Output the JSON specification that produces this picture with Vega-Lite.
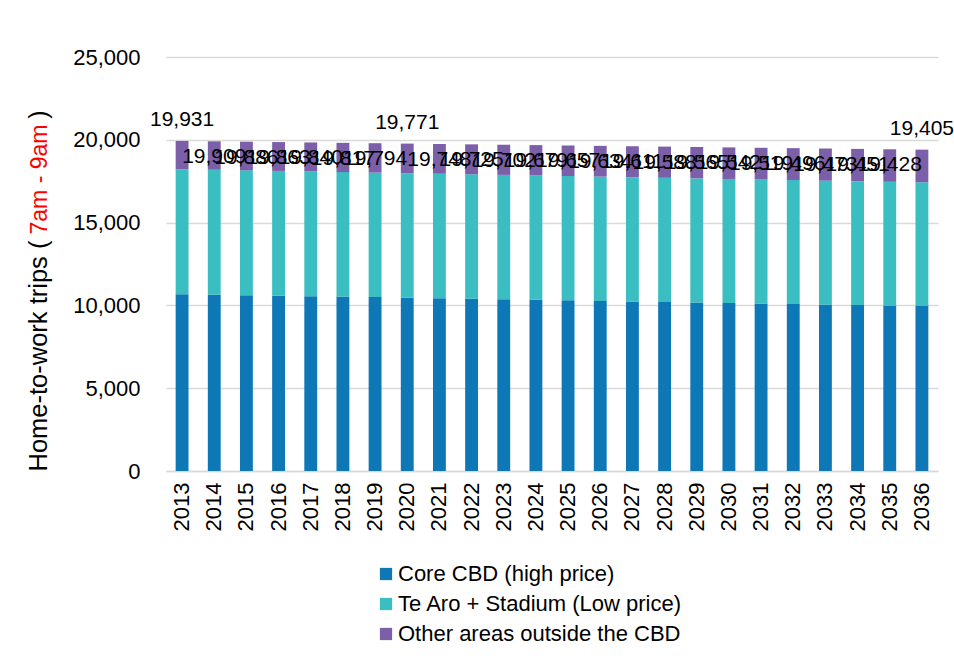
{
  "$schema": "https://vega.github.io/schema/vega-lite/v6.json",
  "width": 772,
  "height": 414,
  "autosize": {"type": "none"},
  "padding": {"left": 166, "top": 57, "right": 16, "bottom": 185},
  "background": "white",
  "config": {
    "font": "Liberation Sans",
    "view": {"stroke": null},
    "axis": {"labelFont": "Liberation Sans", "titleFont": "Liberation Sans", "labelColor": "#000000", "titleColor": "#000000", "titleFontWeight": "normal"}
  },
  "data": {"values": [
    {"year": 2013, "cat": "Core CBD (high price)", "s": 1, "v": 10680},
    {"year": 2013, "cat": "Te Aro + Stadium (Low price)", "s": 2, "v": 7545},
    {"year": 2013, "cat": "Other areas outside the CBD", "s": 3, "v": 1706},
    {"year": 2014, "cat": "Core CBD (high price)", "s": 1, "v": 10650},
    {"year": 2014, "cat": "Te Aro + Stadium (Low price)", "s": 2, "v": 7540},
    {"year": 2014, "cat": "Other areas outside the CBD", "s": 3, "v": 1719},
    {"year": 2015, "cat": "Core CBD (high price)", "s": 1, "v": 10620},
    {"year": 2015, "cat": "Te Aro + Stadium (Low price)", "s": 2, "v": 7535},
    {"year": 2015, "cat": "Other areas outside the CBD", "s": 3, "v": 1731},
    {"year": 2016, "cat": "Core CBD (high price)", "s": 1, "v": 10590},
    {"year": 2016, "cat": "Te Aro + Stadium (Low price)", "s": 2, "v": 7530},
    {"year": 2016, "cat": "Other areas outside the CBD", "s": 3, "v": 1743},
    {"year": 2017, "cat": "Core CBD (high price)", "s": 1, "v": 10560},
    {"year": 2017, "cat": "Te Aro + Stadium (Low price)", "s": 2, "v": 7525},
    {"year": 2017, "cat": "Other areas outside the CBD", "s": 3, "v": 1755},
    {"year": 2018, "cat": "Core CBD (high price)", "s": 1, "v": 10530},
    {"year": 2018, "cat": "Te Aro + Stadium (Low price)", "s": 2, "v": 7520},
    {"year": 2018, "cat": "Other areas outside the CBD", "s": 3, "v": 1767},
    {"year": 2019, "cat": "Core CBD (high price)", "s": 1, "v": 10500},
    {"year": 2019, "cat": "Te Aro + Stadium (Low price)", "s": 2, "v": 7515},
    {"year": 2019, "cat": "Other areas outside the CBD", "s": 3, "v": 1779},
    {"year": 2020, "cat": "Core CBD (high price)", "s": 1, "v": 10460},
    {"year": 2020, "cat": "Te Aro + Stadium (Low price)", "s": 2, "v": 7520},
    {"year": 2020, "cat": "Other areas outside the CBD", "s": 3, "v": 1791},
    {"year": 2021, "cat": "Core CBD (high price)", "s": 1, "v": 10430},
    {"year": 2021, "cat": "Te Aro + Stadium (Low price)", "s": 2, "v": 7520},
    {"year": 2021, "cat": "Other areas outside the CBD", "s": 3, "v": 1798},
    {"year": 2022, "cat": "Core CBD (high price)", "s": 1, "v": 10400},
    {"year": 2022, "cat": "Te Aro + Stadium (Low price)", "s": 2, "v": 7515},
    {"year": 2022, "cat": "Other areas outside the CBD", "s": 3, "v": 1810},
    {"year": 2023, "cat": "Core CBD (high price)", "s": 1, "v": 10370},
    {"year": 2023, "cat": "Te Aro + Stadium (Low price)", "s": 2, "v": 7510},
    {"year": 2023, "cat": "Other areas outside the CBD", "s": 3, "v": 1822},
    {"year": 2024, "cat": "Core CBD (high price)", "s": 1, "v": 10340},
    {"year": 2024, "cat": "Te Aro + Stadium (Low price)", "s": 2, "v": 7505},
    {"year": 2024, "cat": "Other areas outside the CBD", "s": 3, "v": 1834},
    {"year": 2025, "cat": "Core CBD (high price)", "s": 1, "v": 10310},
    {"year": 2025, "cat": "Te Aro + Stadium (Low price)", "s": 2, "v": 7500},
    {"year": 2025, "cat": "Other areas outside the CBD", "s": 3, "v": 1847},
    {"year": 2026, "cat": "Core CBD (high price)", "s": 1, "v": 10270},
    {"year": 2026, "cat": "Te Aro + Stadium (Low price)", "s": 2, "v": 7505},
    {"year": 2026, "cat": "Other areas outside the CBD", "s": 3, "v": 1859},
    {"year": 2027, "cat": "Core CBD (high price)", "s": 1, "v": 10240},
    {"year": 2027, "cat": "Te Aro + Stadium (Low price)", "s": 2, "v": 7500},
    {"year": 2027, "cat": "Other areas outside the CBD", "s": 3, "v": 1871},
    {"year": 2028, "cat": "Core CBD (high price)", "s": 1, "v": 10210},
    {"year": 2028, "cat": "Te Aro + Stadium (Low price)", "s": 2, "v": 7495},
    {"year": 2028, "cat": "Other areas outside the CBD", "s": 3, "v": 1883},
    {"year": 2029, "cat": "Core CBD (high price)", "s": 1, "v": 10180},
    {"year": 2029, "cat": "Te Aro + Stadium (Low price)", "s": 2, "v": 7490},
    {"year": 2029, "cat": "Other areas outside the CBD", "s": 3, "v": 1895},
    {"year": 2030, "cat": "Core CBD (high price)", "s": 1, "v": 10150},
    {"year": 2030, "cat": "Te Aro + Stadium (Low price)", "s": 2, "v": 7485},
    {"year": 2030, "cat": "Other areas outside the CBD", "s": 3, "v": 1907},
    {"year": 2031, "cat": "Core CBD (high price)", "s": 1, "v": 10120},
    {"year": 2031, "cat": "Te Aro + Stadium (Low price)", "s": 2, "v": 7480},
    {"year": 2031, "cat": "Other areas outside the CBD", "s": 3, "v": 1919},
    {"year": 2032, "cat": "Core CBD (high price)", "s": 1, "v": 10090},
    {"year": 2032, "cat": "Te Aro + Stadium (Low price)", "s": 2, "v": 7480},
    {"year": 2032, "cat": "Other areas outside the CBD", "s": 3, "v": 1926},
    {"year": 2033, "cat": "Core CBD (high price)", "s": 1, "v": 10060},
    {"year": 2033, "cat": "Te Aro + Stadium (Low price)", "s": 2, "v": 7475},
    {"year": 2033, "cat": "Other areas outside the CBD", "s": 3, "v": 1938},
    {"year": 2034, "cat": "Core CBD (high price)", "s": 1, "v": 10030},
    {"year": 2034, "cat": "Te Aro + Stadium (Low price)", "s": 2, "v": 7470},
    {"year": 2034, "cat": "Other areas outside the CBD", "s": 3, "v": 1951},
    {"year": 2035, "cat": "Core CBD (high price)", "s": 1, "v": 10000},
    {"year": 2035, "cat": "Te Aro + Stadium (Low price)", "s": 2, "v": 7465},
    {"year": 2035, "cat": "Other areas outside the CBD", "s": 3, "v": 1963},
    {"year": 2036, "cat": "Core CBD (high price)", "s": 1, "v": 9970},
    {"year": 2036, "cat": "Te Aro + Stadium (Low price)", "s": 2, "v": 7465},
    {"year": 2036, "cat": "Other areas outside the CBD", "s": 3, "v": 1970}
  ]},
  "encoding": {
    "x": {
      "field": "year", "type": "ordinal",
      "scale": {"paddingInner": 0.6, "paddingOuter": 0.3},
      "axis": {"title": null, "labelAngle": -90, "labelFontSize": 22, "labelPadding": 11, "ticks": false, "tickSize": 0, "domainColor": "#D9D9D9", "domainWidth": 1.5, "grid": false, "labelFont": "Liberation Sans"}
    }
  },
  "layer": [
    {
      "mark": {"type": "bar"},
      "encoding": {
        "y": {
          "field": "v", "type": "quantitative", "stack": "zero",
          "scale": {"domain": [0, 25000], "nice": false},
          "axis": {
            "orient": "left", "values": [0, 5000, 10000, 15000, 20000, 25000], "labelExpr": "format(datum.value, ',')",
            "labelFontSize": 22, "labelPadding": 26, "ticks": false, "tickSize": 0, "domain": false,
            "grid": true, "gridColor": "#D9D9D9", "gridWidth": 1.5,
            "title": "Home-to-work trips (", "titleFontSize": 25.5, "titleAngle": -90,
            "titleX": -120, "titleY": 414, "titleAlign": "left", "titleBaseline": "alphabetic", "titleColor": "#000000"
          }
        },
        "color": {
          "field": "cat", "type": "nominal",
          "scale": {
            "domain": ["Core CBD (high price)", "Te Aro + Stadium (Low price)", "Other areas outside the CBD"],
            "range": ["#0E77B6", "#3BBEC1", "#7B5FA8"]
          },
          "legend": {
            "title": null, "orient": "none", "legendX": 209, "legendY": 506, "direction": "vertical",
            "symbolType": "square", "symbolSize": 150, "symbolStrokeWidth": 0, "labelFontSize": 22, "labelFont": "Liberation Sans",
            "labelColor": "#000000", "labelOffset": 1, "rowPadding": 8, "padding": 0, "labelLimit": 0
          }
        },
        "order": {"field": "s", "type": "quantitative", "sort": "ascending"}
      }
    },
    {
      "transform": [
        {"aggregate": [{"op": "sum", "field": "v", "as": "total"}], "groupby": ["year"]},
        {"filter": "datum.year == 2013 || datum.year == 2020 || datum.year == 2036"}
      ],
      "mark": {"type": "text", "fontSize": 21, "color": "#000000", "baseline": "alphabetic", "align": "center", "dy": -15, "font": "Liberation Sans"},
      "encoding": {
        "y": {
          "field": "total", "type": "quantitative",
          "axis": {
            "orient": "left", "labels": false, "ticks": false, "domain": false, "grid": false,
            "title": "7am - 9am", "titleColor": "#FF0000", "titleFontSize": 23, "titleAngle": -90,
            "titleX": -120, "titleY": 177, "titleAlign": "left", "titleBaseline": "alphabetic"
          }
        },
        "text": {"field": "total", "type": "quantitative", "format": ","}
      }
    },
    {
      "transform": [
        {"aggregate": [{"op": "sum", "field": "v", "as": "total"}], "groupby": ["year"]},
        {"filter": "!(datum.year == 2013 || datum.year == 2020 || datum.year == 2036)"}
      ],
      "mark": {"type": "text", "fontSize": 21, "color": "#000000", "baseline": "alphabetic", "align": "center", "dy": 22, "font": "Liberation Sans"},
      "encoding": {
        "y": {
          "field": "total", "type": "quantitative",
          "axis": {
            "orient": "left", "labels": false, "ticks": false, "domain": false, "grid": false,
            "title": ")", "titleColor": "#000000", "titleFontSize": 25, "titleAngle": -90,
            "titleX": -120, "titleY": 53, "titleAlign": "right", "titleBaseline": "alphabetic"
          }
        },
        "text": {"field": "total", "type": "quantitative", "format": ","}
      }
    }
  ],
  "resolve": {"axis": {"y": "independent"}}
}
